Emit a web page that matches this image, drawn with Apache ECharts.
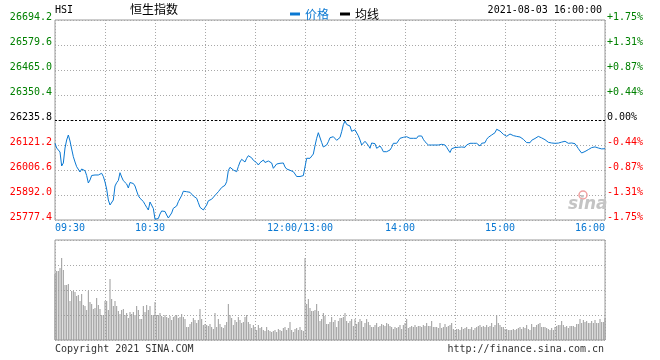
<!DOCTYPE html>
<html><head><meta charset="utf-8">
<script src="https://cdn.jsdelivr.net/npm/echarts@6/dist/echarts.min.js"></script>
<style>html,body{margin:0;padding:0;background:#fff}#c{width:660px;height:360px}</style>
</head><body><div id="c"></div>
<script>
const symbolText = 'HSI';
const titleText = '恒生指数';
const dateText = '2021-08-03 16:00:00';
const prevClose = 26235.8;
const priceTicks = [25777.4, 25892.0, 26006.6, 26121.2, 26235.8, 26350.4, 26465.0, 26579.6, 26694.2];
const pctLabels = ['-1.75%', '-1.31%', '-0.87%', '-0.44%', '0.00%', '+0.44%', '+0.87%', '+1.31%', '+1.75%'];
const timeTickMinutes = [0, 60, 150, 210, 270, 330];
const timeTickLabels = ['09:30', '10:30', '12:00/13:00', '14:00', '15:00', '16:00'];

// price per minute, index = minutes since 09:30 (lunch break skipped, 12:00 = 13:00)
const prices = [
26129.0,26107.4,26100.6,26089.1,26024.9,26038.7,26107.4,26144.1,26167.0,26139.5,
26102.9,26067.6,26043.3,26021.7,26012.6,25997.4,26011.2,26017.1,26003.4,25981.4,
25947.0,25960.8,25981.4,25983.7,25983.7,25979.1,25983.7,25990.6,25991.5,25976.8,
25951.6,25919.5,25869.1,25846.2,25839.3,25869.1,25933.3,25948.4,25958.5,25994.2,
25974.5,25957.6,25951.6,25942.4,25924.1,25949.3,25948.4,25944.7,25933.3,25910.3,
25888.8,25876.9,25870.5,25862.2,25848.5,25835.6,25823.2,25859.9,25856.7,25830.1,
25780.6,25782.0,25784.3,25804.9,25818.7,25818.7,25816.4,25800.3,25786.6,25788.9,
25809.5,25831.0,25831.0,25841.6,25861.3,25861.3,25889.7,25909.4,25903.5,25907.1,
25912.6,25904.4,25898.0,25887.4,25884.7,25876.9,25856.7,25835.6,25827.4,25823.2,
25816.4,25846.2,25865.4,25870.0,25872.7,25879.6,25890.2,25899.3,25907.1,25914.9,
25926.4,25930.0,25936.5,25953.0,26004.3,26019.0,26021.7,26006.6,26003.4,25998.8,
26022.6,26043.3,26055.6,26057.0,26043.3,26060.2,26072.2,26078.6,26062.5,26051.1,
26043.7,26040.1,26029.5,26040.1,26044.2,26052.4,26041.0,26043.3,26047.9,26052.4,
26038.7,26014.4,26021.7,26034.1,26036.9,26037.3,26041.0,26038.7,26020.4,26011.2,
26008.0,26005.2,26001.6,25998.8,25988.3,25976.8,25979.1,25976.8,25975.4,25980.9,
25983.7,26060.2,26067.6,26060.2,26052.4,26079.9,26118.0,26151.9,26177.6,26171.6,
26132.7,26112.0,26109.7,26121.2,26136.3,26154.7,26161.1,26159.2,26154.7,26142.7,
26141.8,26155.6,26182.2,26214.3,26231.2,26215.2,26210.6,26208.3,26184.0,26179.9,
26190.9,26182.2,26163.4,26144.1,26121.2,26121.2,26138.2,26136.3,26119.4,26106.1,
26130.4,26126.7,26127.2,26106.1,26106.1,26116.6,26106.1,26090.5,26085.9,26090.5,
26085.9,26098.3,26110.7,26129.0,26131.7,26129.0,26136.8,26151.9,26147.3,26156.5,
26151.9,26159.2,26156.5,26151.9,26159.2,26151.9,26144.1,26151.9,26162.5,26167.0,
26162.5,26147.3,26136.3,26129.0,26121.2,26129.0,26121.2,26125.8,26121.2,26129.0,
26121.2,26129.0,26124.4,26129.0,26121.2,26110.7,26098.3,26086.8,26104.2,26107.4,
26109.7,26110.7,26110.7,26110.7,26112.0,26113.4,26110.7,26121.2,26124.4,26129.0,
26124.4,26129.0,26124.4,26129.0,26131.7,26116.6,26129.0,26136.3,26131.7,26147.3,
26156.5,26162.5,26167.0,26174.8,26177.6,26193.2,26197.8,26185.4,26177.6,26170.2,
26163.4,26161.1,26165.2,26171.6,26170.2,26164.3,26165.2,26160.6,26157.4,26157.9,
26155.1,26147.3,26139.5,26132.2,26126.7,26131.7,26142.7,26145.5,26151.0,26159.7,
26160.6,26157.9,26153.7,26149.2,26145.5,26139.5,26133.6,26130.4,26130.4,26129.9,
26129.0,26130.4,26129.9,26130.4,26134.5,26139.1,26138.2,26131.7,26129.0,26130.4,
26130.4,26129.0,26127.2,26118.9,26104.7,26093.7,26084.5,26080.4,26091.4,26097.4,
26100.1,26104.2,26109.3,26112.0,26112.5,26108.4,26107.4,26107.0,26103.3,26101.9,26104.2
];

// volume per minute (relative units)
const volumes = [
66,69,69,72,82,70,55,55,56,39,
49,49,48,44,45,39,46,35,34,30,
49,38,36,31,32,42,35,31,25,25,
39,39,30,61,41,34,39,34,29,26,
30,31,25,27,22,28,26,28,25,34,
30,21,21,34,28,35,30,34,25,25,
38,25,25,27,24,23,25,23,22,24,
20,23,24,25,22,23,26,23,21,13,
13,16,18,22,20,17,20,31,21,15,
16,15,14,16,13,11,27,13,21,16,
13,12,15,18,36,25,22,15,20,18,
23,20,17,18,23,25,18,16,12,15,
13,10,15,12,13,10,9,13,10,9,
8,9,10,8,11,10,9,12,13,10,
12,18,10,8,11,12,10,13,10,9,
82,36,41,32,29,29,30,36,29,19,
21,27,24,16,16,18,23,18,20,13,
19,22,22,23,27,19,17,19,21,14,
21,16,18,21,19,13,17,21,18,15,
13,13,15,17,13,14,16,15,14,17,
16,14,13,11,13,12,13,15,11,15,
17,21,12,13,14,13,15,13,14,14,
13,15,14,17,14,14,19,13,13,13,
12,17,12,13,16,13,14,15,17,11,
10,11,11,10,13,11,12,13,11,11,
13,10,12,13,14,15,13,14,13,15,
13,14,17,13,15,25,17,15,13,13,
11,11,10,10,10,11,10,11,12,13,
11,13,12,15,11,10,16,13,13,15,
16,17,13,13,13,12,11,10,12,10,
13,14,15,15,19,15,13,14,12,14,
14,14,13,16,16,21,17,20,18,19,
17,17,19,17,20,17,17,21,18,18,22
];

const MONO = 'DejaVu Sans Mono';
const BLUE = '#0a78d2';
const GRIDC = '#a8a8a8';
const chart = echarts.init(document.getElementById('c'), null, {renderer: 'canvas'});

function colKey(v) {
  if (Math.abs(v - prevClose) < 0.05) return 'k';
  return v > prevClose ? 'g' : 'r';
}
function tickIndex(v) {
  let best = 0, d = 1e9;
  priceTicks.forEach((t, i) => { if (Math.abs(t - v) < d) { d = Math.abs(t - v); best = i; } });
  return best;
}
const rich = {
  g: {color: '#008000', fontFamily: MONO, fontSize: 10},
  k: {color: '#000000', fontFamily: MONO, fontSize: 10},
  r: {color: '#ff0000', fontFamily: MONO, fontSize: 10}
};
const dotted = {color: GRIDC, width: 1, type: [1, 2]};
const xMinMax = {type: 'value', min: 0, max: 330, interval: 30};

const option = {
  animation: false,
  backgroundColor: '#fff',
  grid: [
    {left: 55, right: 55, top: 20, height: 200, show: true, borderColor: '#9a9a9a', borderWidth: 1},
    {left: 55, right: 55, top: 240, height: 100, show: true, borderColor: '#9a9a9a', borderWidth: 1}
  ],
  legend: {
    left: 285, top: 3, icon: 'rect', itemWidth: 10, itemHeight: 3, itemGap: 11,
    textStyle: {fontSize: 12, fontFamily: 'Noto Sans CJK SC'},
    data: [
      {name: '价格', textStyle: {color: BLUE}},
      {name: '均线', textStyle: {color: '#000'}}
    ]
  },
  xAxis: [
    Object.assign({}, xMinMax, {
      gridIndex: 0,
      axisLine: {show: false}, axisTick: {show: false},
      splitLine: {show: true, lineStyle: dotted},
      axisLabel: {
        customValues: timeTickMinutes,
        margin: 3,
        alignMinLabel: 'left', alignMaxLabel: 'right',
        formatter: v => {
          const i = timeTickMinutes.indexOf(Math.round(v));
          if (i < 0) return '';
          const key = (i === 0 || i === timeTickMinutes.length - 1) ? 'e' : 'm';
          return '{' + key + '|' + timeTickLabels[i] + '}';
        },
        rich: {
          e: {color: BLUE, fontFamily: MONO, fontSize: 10},
          m: {color: BLUE, fontFamily: MONO, fontSize: 10, padding: [0, 10, 0, 0]}
        }
      }
    }),
    Object.assign({}, xMinMax, {
      gridIndex: 1,
      axisLine: {show: false}, axisTick: {show: false}, axisLabel: {show: false},
      splitLine: {show: true, lineStyle: dotted}
    })
  ],
  yAxis: [
    {
      type: 'value', gridIndex: 0, position: 'left',
      min: priceTicks[0], max: priceTicks[priceTicks.length - 1],
      axisLine: {show: false},
      axisTick: {show: false, customValues: priceTicks},
      splitLine: {show: true, lineStyle: dotted},
      axisLabel: {
        customValues: priceTicks, margin: 3, padding: [0, 0, 6, 0],
        formatter: v => '{' + colKey(v) + '|' + priceTicks[tickIndex(v)].toFixed(1) + '}',
        rich: rich
      }
    },
    {
      type: 'value', gridIndex: 0, position: 'right',
      min: priceTicks[0], max: priceTicks[priceTicks.length - 1],
      axisLine: {show: false},
      axisTick: {show: false, customValues: priceTicks},
      splitLine: {show: false},
      axisLabel: {
        customValues: priceTicks, margin: 2, padding: [0, 0, 6, 0],
        formatter: v => { const i = tickIndex(v); return '{' + colKey(priceTicks[i]) + '|' + pctLabels[i] + '}'; },
        rich: rich
      }
    },
    {
      type: 'value', gridIndex: 1, min: 0, max: 100, interval: 25,
      axisLine: {show: false}, axisTick: {show: false}, axisLabel: {show: false},
      splitLine: {show: true, lineStyle: dotted}
    }
  ],
  series: [
    {
      name: '价格', type: 'line', xAxisIndex: 0, yAxisIndex: 0,
      data: prices.map((p, i) => [i, p]),
      showSymbol: false, symbol: 'none', color: BLUE,
      lineStyle: {width: 1, color: BLUE}, z: 5,
      markLine: {
        silent: true, symbol: 'none', label: {show: false},
        lineStyle: {color: '#000', width: 1, type: [2, 2]},
        data: [{yAxis: prevClose}]
      }
    },
    {
      name: '均线', type: 'line', xAxisIndex: 0, yAxisIndex: 0,
      data: [], color: '#000', showSymbol: false, lineStyle: {color: '#000', width: 1}
    },
    {
      name: '成交量', type: 'bar', xAxisIndex: 1, yAxisIndex: 2,
      data: volumes.map((v, i) => [i, v]),
      barWidth: 1, itemStyle: {color: '#9a9a9a'}
    }
  ],
  graphic: [
    {type: 'text', left: 55, top: 5, style: {text: symbolText, font: '10px "' + MONO + '"', fill: '#000'}},
    {type: 'text', left: 130, top: 3, style: {text: titleText, font: '12px "Noto Sans CJK SC"', fill: '#000'}},
    {type: 'text', right: 58, top: 5, style: {text: dateText, font: '10px "' + MONO + '"', fill: '#000'}},
    {type: 'text', left: 55, top: 344, style: {text: 'Copyright 2021 SINA.COM', font: '10px "' + MONO + '"', fill: '#333'}},
    {type: 'text', right: 56, top: 344, style: {text: 'http://finance.sina.com.cn', font: '10px "' + MONO + '"', fill: '#333'}},
    {type: 'circle', shape: {cx: 583, cy: 195, r: 4}, style: {fill: 'none', stroke: '#f0a0a0', lineWidth: 1.5}, z: 1},
    {type: 'text', left: 568, top: 196, style: {text: 'sina', font: 'italic bold 17px "DejaVu Sans"', fill: '#c4c4c4'}, z: 1}
  ]
};
chart.setOption(option);
</script>
</body></html>
